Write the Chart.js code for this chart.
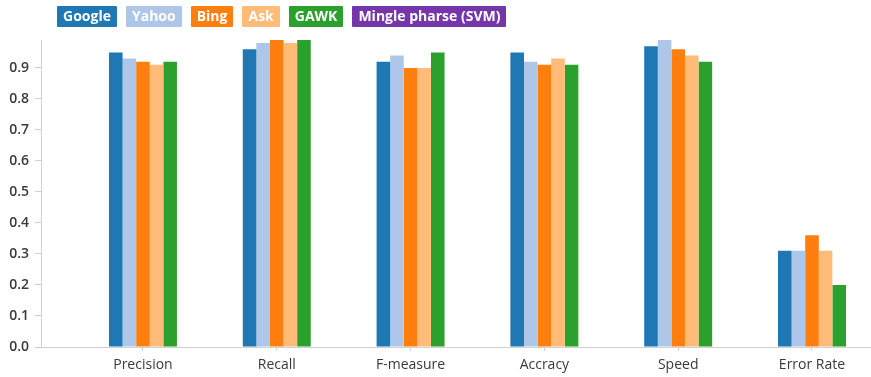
<!DOCTYPE html>
<html>
<head>
<meta charset="utf-8">
<script src="https://cdn.jsdelivr.net/npm/chart.js@4/dist/chart.umd.min.js"></script>
<style>
  html, body { margin: 0; padding: 0; background: #fff; }
  #wrap { position: relative; width: 871px; height: 377px; }
  #legend { position: absolute; left: 57px; top: 6px; display: flex; gap: 9px; }
  #legend span {
    display: block; height: 21px; line-height: 21px; padding: 0 6px;
    color: #fff; font: bold 14px "Open Sans", sans-serif; border-radius: 1px;
  }
</style>
</head>
<body>
<div id="wrap">
  <canvas id="chart" width="871" height="377"></canvas>
  <div id="legend"></div>
</div>
<script>
// Metric names along the x axis
const categories = ['Precision', 'Recall', 'F-measure', 'Accracy', 'Speed', 'Error Rate'];

// Scores per search approach
const google = [0.95, 0.96, 0.92, 0.95, 0.97, 0.31];
const yahoo  = [0.93, 0.98, 0.94, 0.92, 0.99, 0.31];
const bing   = [0.92, 0.99, 0.90, 0.91, 0.96, 0.36];
const ask    = [0.91, 0.98, 0.90, 0.93, 0.94, 0.31];
const gawk   = [0.92, 0.99, 0.95, 0.91, 0.92, 0.20];
const svm    = [null, null, null, null, null, null];

// Y axis tick values
const yTicks = [0, 0.1, 0.2, 0.3, 0.4, 0.5, 0.6, 0.7, 0.8, 0.9];

const series = [
  { label: 'Google', values: google, color: '#1f77b4' },
  { label: 'Yahoo', values: yahoo, color: '#aec7e8' },
  { label: 'Bing', values: bing, color: '#ff7f0e' },
  { label: 'Ask', values: ask, color: '#ffbb78' },
  { label: 'GAWK', values: gawk, color: '#2ca02c' },
  { label: 'Mingle pharse (SVM)', values: svm, color: '#7436a8' }
];

const datasets = series.map(s => ({
  label: s.label,
  data: s.values.map((v, i) => ({ x: i, y: v })),
  backgroundColor: s.color,
  borderWidth: 0,
  skipNull: true,
  categoryPercentage: 0.508,
  barPercentage: 1.0
}));

const font = '"Open Sans", sans-serif';

const chart = new Chart(document.getElementById('chart'), {
  type: 'bar',
  data: { datasets },
  options: {
    responsive: false,
    devicePixelRatio: 1,
    animation: false,
    layout: { padding: { top: 40, left: 0, right: 0, bottom: 0 } },
    plugins: { legend: { display: false }, tooltip: { enabled: false } },
    scales: {
      x: {
        type: 'linear',
        offset: false,
        min: -0.762,
        max: 5.441,
        border: { color: '#d0d0d0', width: 1 },
        grid: { drawOnChartArea: false, drawTicks: true, tickLength: 4, color: '#d0d0d0', offset: false },
        afterBuildTicks: s => { s.ticks = categories.map((c, i) => ({ value: i })); },
        ticks: {
          autoSkip: false,
          maxRotation: 0,
          padding: 6,
          color: '#3a3a3a',
          font: { family: font, size: 14 },
          callback: v => categories[v] !== undefined ? categories[v] : ''
        },
        afterFit: s => { s.height = 30; }
      },
      y: {
        type: 'linear',
        min: 0,
        max: 0.99,
        border: { color: '#d0d0d0', width: 1 },
        grid: { drawOnChartArea: false, drawTicks: true, tickLength: 6, color: '#d0d0d0' },
        afterBuildTicks: s => { s.ticks = yTicks.map(v => ({ value: v })); },
        ticks: {
          padding: 6,
          color: '#3a3a3a',
          font: { family: font, size: 14, weight: '600' },
          callback: v => Number(v).toFixed(1)
        },
        afterFit: s => { s.width = 41; }
      }
    }
  }
});

// Legend built from the chart's datasets
const legend = document.getElementById('legend');
chart.data.datasets.forEach(ds => {
  const item = document.createElement('span');
  item.textContent = ds.label;
  item.style.background = ds.backgroundColor;
  legend.appendChild(item);
});
</script>
</body>
</html>
